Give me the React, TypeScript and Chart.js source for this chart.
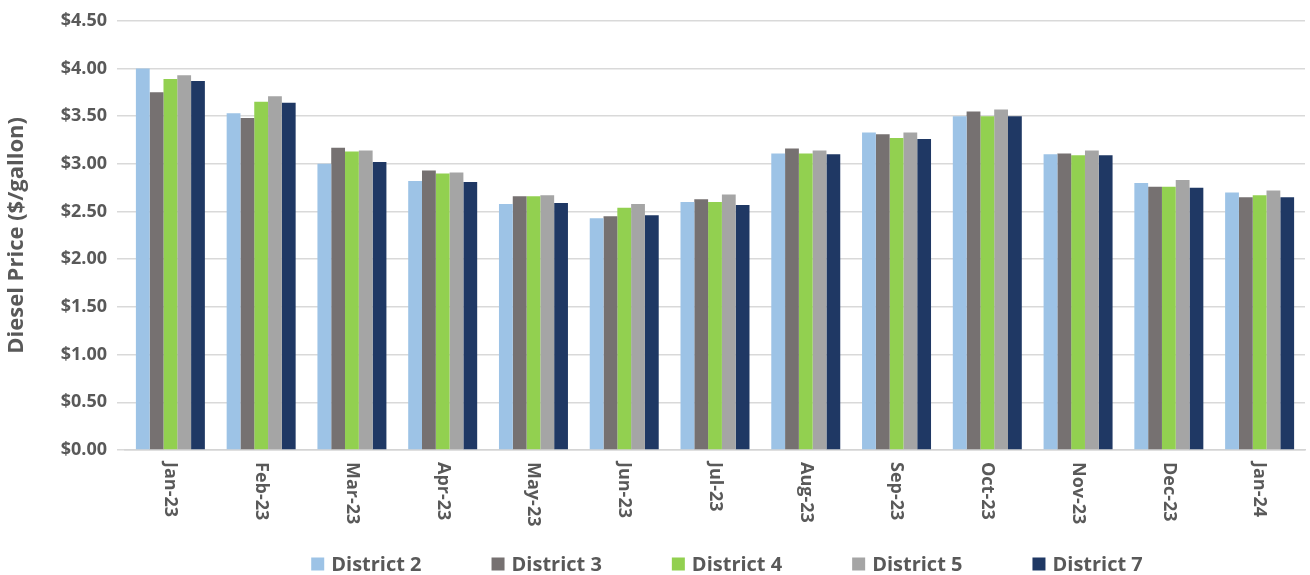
import React, { useEffect, useRef } from "react";
import { Chart, registerables } from "chart.js";

Chart.register(...registerables);

const categories = ["Jan-23", "Feb-23", "Mar-23", "Apr-23", "May-23", "Jun-23", "Jul-23", "Aug-23", "Sep-23", "Oct-23", "Nov-23", "Dec-23", "Jan-24"];
const district2 = [4.0, 3.53, 3.0, 2.82, 2.58, 2.43, 2.6, 3.11, 3.33, 3.5, 3.1, 2.8, 2.7];
const district3 = [3.75, 3.48, 3.17, 2.93, 2.66, 2.45, 2.63, 3.16, 3.31, 3.55, 3.11, 2.76, 2.65];
const district4 = [3.89, 3.65, 3.13, 2.9, 2.66, 2.54, 2.6, 3.11, 3.27, 3.5, 3.09, 2.76, 2.67];
const district5 = [3.93, 3.71, 3.14, 2.91, 2.67, 2.58, 2.68, 3.14, 3.33, 3.57, 3.14, 2.83, 2.72];
const district7 = [3.87, 3.64, 3.02, 2.81, 2.59, 2.46, 2.57, 3.1, 3.26, 3.5, 3.09, 2.75, 2.65];
const seriesNames = ["District 2", "District 3", "District 4", "District 5", "District 7"];
const seriesColors = ["#9DC3E6", "#767171", "#92D050", "#A5A5A5", "#1F3864"];

const FONT = "'Open Sans', sans-serif";
const TEXT = "#595959";

const customText = {
  id: "customText",
  afterDraw(chart: any) {
    const ctx = chart.ctx;
    const xs = chart.scales.x;
    ctx.save();
    // x-axis labels rotated clockwise
    ctx.font = `bold 18px ${FONT}`;
    ctx.fillStyle = TEXT;
    ctx.textAlign = "left";
    ctx.textBaseline = "middle";
    (chart.data.labels as string[]).forEach((c, i) => {
      const x = xs.getPixelForTick(i);
      ctx.save();
      ctx.translate(x, xs.top + 12);
      ctx.rotate(Math.PI / 2);
      ctx.fillText(c, 0, 0);
      ctx.restore();
    });
    // legend
    ctx.font = `bold 20px ${FONT}`;
    const box = 13;
    const gapText = 7;
    const gapItem = 70;
    const ds = chart.data.datasets;
    const widths = ds.map((d: any) => box + gapText + ctx.measureText(d.label).width);
    const total = widths.reduce((a: number, b: number) => a + b, 0) + gapItem * (ds.length - 1);
    const ca = chart.chartArea;
    let x = (ca.left + ca.right) / 2 + 12 - total / 2;
    const cy = 564;
    ds.forEach((d: any, i: number) => {
      ctx.fillStyle = d.backgroundColor;
      ctx.fillRect(x, cy - box / 2, box, box);
      ctx.fillStyle = TEXT;
      ctx.fillText(d.label, x + box + gapText, cy + 1);
      x += widths[i] + gapItem;
    });
    ctx.restore();
  },
};

export default function App() {
  const ref = useRef<HTMLCanvasElement>(null);
  useEffect(() => {
    if (!ref.current) return;
    const data = [district2, district3, district4, district5, district7];
    const chart = new Chart(ref.current, {
      type: "bar",
      data: {
        labels: categories,
        datasets: data.map((d, i) => ({
          label: seriesNames[i],
          data: d,
          backgroundColor: seriesColors[i],
          borderWidth: 0,
          categoryPercentage: 0.76,
          barPercentage: 1.0,
        })),
      },
      plugins: [customText],
      options: {
        animation: false,
        responsive: false,
        maintainAspectRatio: false,
        layout: { padding: { left: 0, right: 5, top: 8, bottom: 0 } },
        plugins: {
          legend: { display: false },
          tooltip: { enabled: false },
        },
        scales: {
          x: {
            grid: { display: false },
            border: { color: "#D4D4D4", width: 1.5 },
            ticks: { display: false },
            afterFit: (s: any) => {
              s.height = 125;
            },
          },
          y: {
            min: 0,
            max: 4.5,
            grid: { color: "#D9D9D9", lineWidth: 1.5, drawTicks: true, tickLength: 8 },
            border: { display: false },
            afterFit: (s: any) => {
              s.width = 125;
            },
            ticks: {
              stepSize: 0.5,
              color: TEXT,
              padding: 10,
              font: { family: FONT, size: 18, weight: "bold" },
              callback: (v: any) => "$" + Number(v).toFixed(2),
            },
            title: {
              display: true,
              text: "Diesel Price ($/gallon)",
              color: TEXT,
              font: { family: FONT, size: 22, weight: "bold" },
              padding: { top: 4, bottom: 0 },
            },
          },
        },
      },
    });
    return () => chart.destroy();
  }, []);
  return (
    <div style={{ position: "fixed", left: 0, top: 0, width: 1310, height: 575, background: "#fff" }}>
      <canvas ref={ref} width={1310} height={575} />
    </div>
  );
}
